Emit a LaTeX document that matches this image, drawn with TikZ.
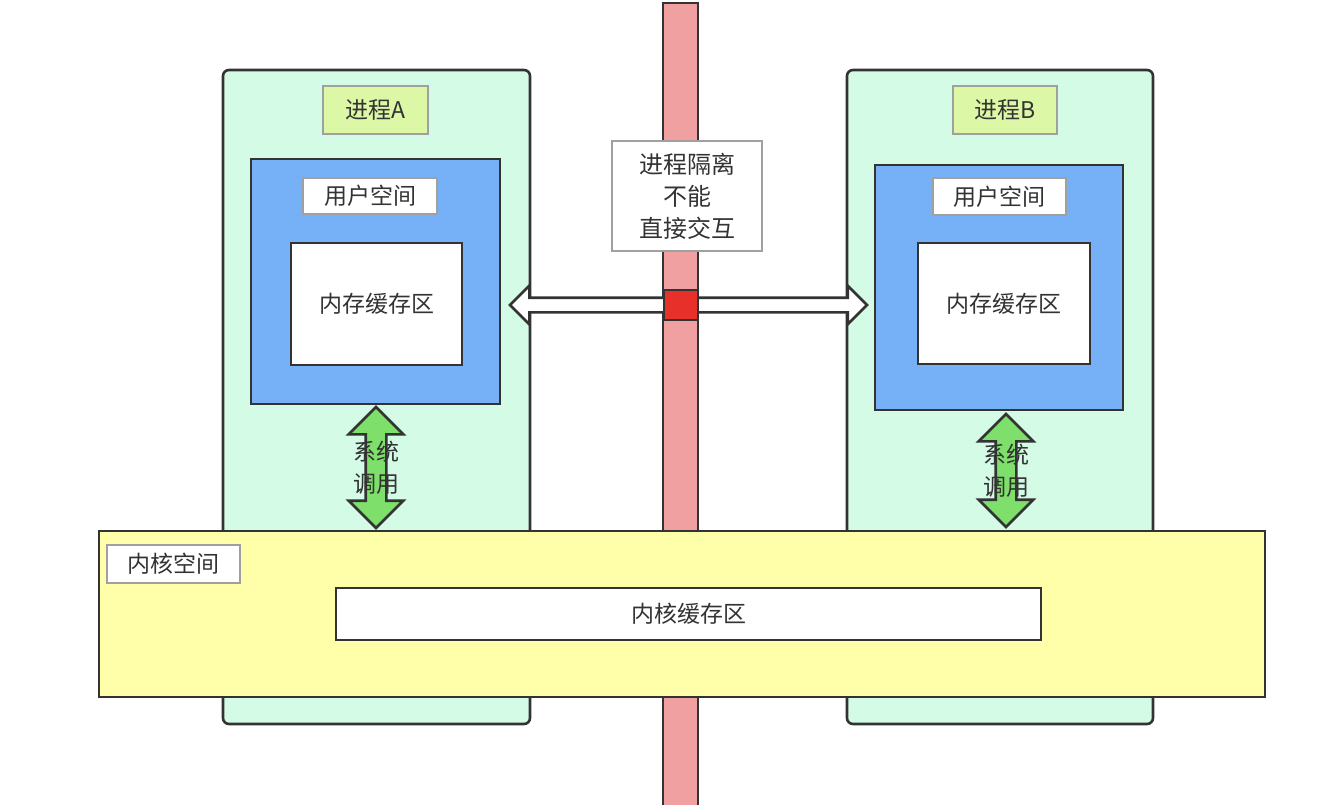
\documentclass[tikz,border=0pt]{standalone}
\usepackage{fontspec}
\setmainfont{Noto Sans CJK SC}
\usetikzlibrary{shapes.arrows}

\definecolor{mint}{HTML}{D4FBE6}
\definecolor{userblue}{HTML}{76B0F7}
\definecolor{kernyellow}{HTML}{FFFFAA}
\definecolor{tagleaf}{HTML}{DCF7A6}
\definecolor{barpink}{HTML}{F0A0A0}
\definecolor{sqred}{HTML}{E8302A}
\definecolor{arrowgreen}{HTML}{7EE06A}
\definecolor{linedark}{HTML}{333333}
\definecolor{linegray}{HTML}{A0A0A0}
\definecolor{textgray}{HTML}{333333}

\begin{document}
\begin{tikzpicture}[
  x=1pt,y=-1pt,
  every node/.style={inner sep=0pt,outer sep=0pt,text=textgray,font=\fontsize{23}{32}\selectfont},
  darkbox/.style={draw=linedark,line width=2.6pt,rectangle},
  tagbox/.style={draw=linegray,line width=1.4pt,fill=white,rectangle},
  fatarrow/.style={double arrow,draw=linedark,line width=2.6pt,fill=white,
    double arrow tip angle=90},
  ]
  \useasboundingbox (0,0) rectangle (1344,804);
  % isolation bar at the back
  \node[darkbox,fill=barpink,minimum width=35,minimum height=806] (bar) at (680.5,406) {};
  % the two processes
  \node[darkbox,fill=mint,rounded corners=6,minimum width=307,minimum height=654] (procA) at (376.5,397) {};
  \node[darkbox,fill=mint,rounded corners=6,minimum width=306,minimum height=654] (procB) at (1000,397) {};
  \node[tagbox,draw=linegray,fill=tagleaf,minimum width=105,minimum height=48] (tagA) at (375.5,110) {进程A};
  \node[tagbox,draw=linegray,fill=tagleaf,minimum width=104,minimum height=48] (tagB) at (1005,110) {进程B};
  % user spaces
  \node[darkbox,fill=userblue,minimum width=249,minimum height=245] (userA) at (375.5,281.5) {};
  \node[darkbox,fill=userblue,minimum width=248,minimum height=245] (userB) at (999,287.5) {};
  \node[tagbox,minimum width=134,minimum height=36] (userlabA) at (370,196) {用户空间};
  \node[tagbox,minimum width=133,minimum height=37] (userlabB) at (999.5,196.5) {用户空间};
  \node[darkbox,fill=white,minimum width=171,minimum height=122] (bufA) at (376.5,304) {内存缓存区};
  \node[darkbox,fill=white,minimum width=172,minimum height=121] (bufB) at (1004,303.5) {内存缓存区};
  % kernel space
  \node[darkbox,fill=kernyellow,minimum width=1166,minimum height=166] (kern) at (682,614) {};
  \node[tagbox,minimum width=133,minimum height=38] (kernlab) at (173.5,564) {内核空间};
  \node[darkbox,fill=white,minimum width=705,minimum height=52] (kernbuf) at (688.5,614) {内核缓存区};
  % isolation note
  \node[tagbox,minimum width=150,minimum height=110,align=center,font=\fontsize{24}{32}\selectfont] (isol) at (687,196) {进程隔离\\不能\\直接交互};
  % blocked direct exchange
  \node[fatarrow,inner sep=6,double arrow head extend=12,minimum height=357] (ipc) at (688.5,305) {};
  \node[darkbox,fill=sqred,minimum width=34,minimum height=30] (block) at (681,305) {};
  % system calls
  \node[fatarrow,fill=arrowgreen,rotate=90,inner sep=9,double arrow head extend=17,minimum height=121] (sysA) at (376,467.5) {};
  \node[fatarrow,fill=arrowgreen,rotate=90,inner sep=9,double arrow head extend=17,minimum height=113] (sysB) at (1006,470.5) {};
  \node[align=center] (sysAlab) at (sysA) {系统\\调用};
  \node[align=center] (sysBlab) at (sysB) {系统\\调用};
\end{tikzpicture}
\end{document}
